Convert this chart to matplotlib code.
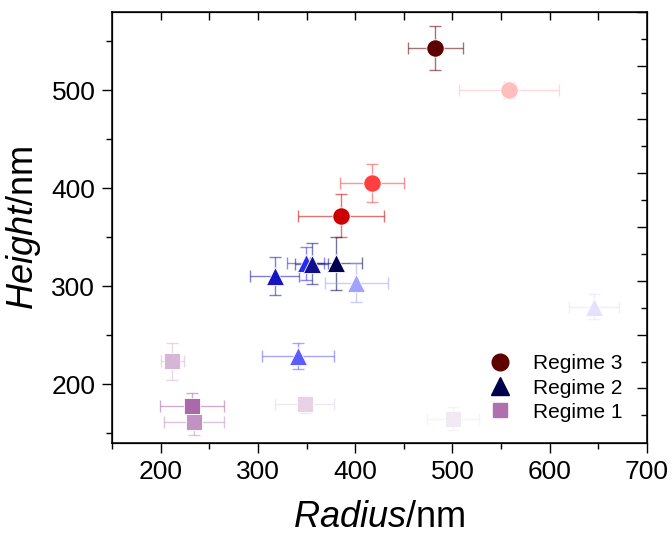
import numpy as np
import matplotlib
matplotlib.use("Agg")
import matplotlib.pyplot as plt
from matplotlib.lines import Line2D

plt.rcParams['font.family'] = ['Liberation Sans', 'DejaVu Sans']
plt.rcParams['mathtext.fontset'] = 'custom'
plt.rcParams['mathtext.it'] = 'Liberation Sans:italic'
plt.rcParams['mathtext.rm'] = 'Liberation Sans'

# Regime 3 (circles)
r3_x = [482.3, 558.2, 417.4, 385.2]
r3_y = [542.9, 500.0, 404.8, 371.7]
r3_xerr = [28.2, 51.3, 32.6, 44.3]
r3_yerr = [22.2, 8.5, 19.4, 22.0]
r3_colors = ['#5e0000', '#ffbdbd', '#ff4040', '#cc0000']

# Regime 2 (triangles)
r2_x = [317.2, 349.0, 355.4, 380.1, 401.3, 341.1, 645.7]
r2_y = [309.9, 323.3, 323.0, 323.2, 303.6, 228.9, 278.9]
r2_xerr = [25.1, 19.0, 17.0, 26.4, 32.8, 36.9, 26.0]
r2_yerr = [19.4, 16.7, 21.2, 26.7, 19.9, 13.4, 12.6]
r2_colors = ['#1515c4', '#2a2af5', '#10108c', '#00004e', '#a2a2ff', '#5c5cff', '#e2e2ff']

# Regime 1 (squares)
r1_x = [232.4, 234.1, 212.0, 348.0, 500.7]
r1_y = [177.9, 161.5, 223.3, 179.3, 164.9]
r1_xerr = [33.0, 31.0, 12.0, 30.0, 26.5]
r1_yerr = [13.0, 13.6, 19.0, 9.0, 11.8]
r1_colors = ['#aa6aaa', '#c292c2', '#d6b6d6', '#e6d4e6', '#f2eaf2']

legend_labels = ['Regime 3', 'Regime 2', 'Regime 1']
legend_colors = ['#5e0000', '#00004e', '#b070b0']

fig = plt.figure(figsize=(6.72, 5.34), dpi=100)
ax = fig.add_axes([112/672, 1-443/534, (647-112)/672, (443-11.7)/534])

def draw(xs, ys, xe, ye, cols, marker, ms):
    for x, y, dx, dy, c in zip(xs, ys, xe, ye, cols):
        ax.errorbar(x, y, xerr=dx, yerr=dy, fmt='none', ecolor=c, alpha=0.55,
                    elinewidth=1.0, capsize=4, capthick=1.0, zorder=2)
        ax.plot(x, y, marker=marker, color=c, markersize=ms, markeredgecolor='white',
                markeredgewidth=0.6, linestyle='none', zorder=3)

draw(r1_x, r1_y, r1_xerr, r1_yerr, r1_colors, 's', 11)
draw(r2_x, r2_y, r2_xerr, r2_yerr, r2_colors, '^', 13)
draw(r3_x, r3_y, r3_xerr, r3_yerr, r3_colors, 'o', 12.5)

ax.set_xlim(150, 700)
ax.set_ylim(140, 580)
ax.set_xticks([200, 300, 400, 500, 600, 700])
ax.set_xticks(np.arange(150, 701, 50), minor=True)
ax.set_yticks([200, 300, 400, 500])
ax.set_yticks(np.arange(150, 580, 50), minor=True)
ax.tick_params(which='major', direction='out', length=7, width=1, labelsize=19, pad=5)
ax.tick_params(which='minor', direction='out', length=4, width=1)
for s in ax.spines.values():
    s.set_linewidth(1.1)

ax2 = ax.twinx()
ax2.set_ylim(140, 580)
ax2.set_yticks(np.arange(195.6, 580, 54.9))
ax2.set_yticks(np.arange(168.1, 580, 54.9), minor=True)
ax2.tick_params(which='major', direction='in', length=7, width=1, labelright=False)
ax2.tick_params(which='minor', direction='in', length=4, width=1)

ax3 = ax.twiny()
ax3.set_xlim(150, 700)
ax3.set_xticks(np.arange(200, 700, 50))
ax3.tick_params(which='major', direction='in', length=6, width=1, labeltop=False)
ax3.xaxis.set_minor_locator(matplotlib.ticker.NullLocator())

ax.set_xlabel(r'$\mathit{Radius}$/nm', fontsize=26, labelpad=12)
ax.set_ylabel(r'$\mathit{Height}$/nm', fontsize=26, labelpad=6)

handles = [Line2D([], [], marker=m, color=c, linestyle='none', markersize=ms)
           for m, c, ms in zip(['o', '^', 's'], legend_colors, [12, 13, 10])]
ax.legend(handles, legend_labels, loc='lower left', bbox_to_anchor=(0.67, 0.03),
          frameon=False, fontsize=15, handletextpad=0.6, labelspacing=0.25,
          borderaxespad=0)

fig.savefig('out.png', dpi=100)
